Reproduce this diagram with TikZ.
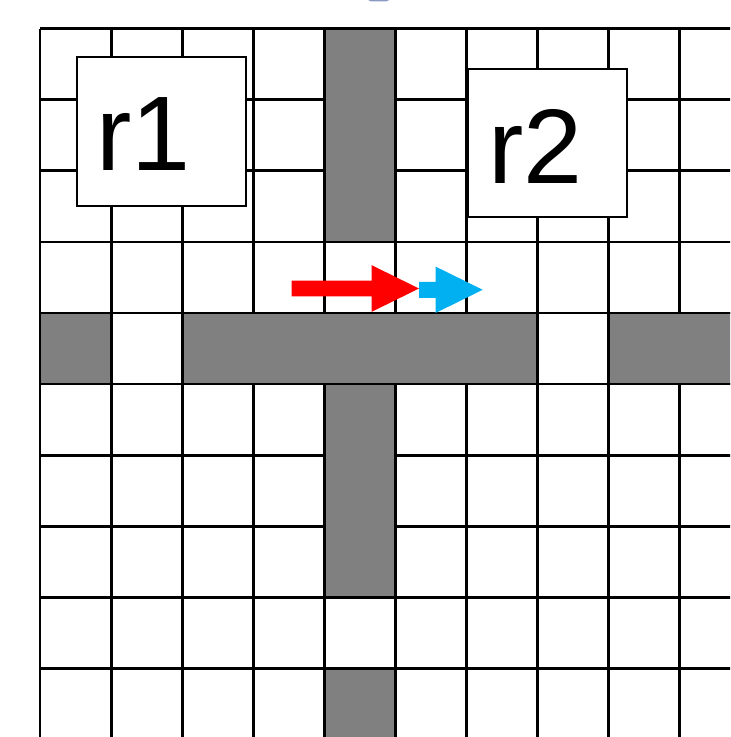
\documentclass[tikz,border=0pt]{standalone}
\usepackage{fontspec}
\setmainfont{Liberation Sans}
\usepackage{tikz}
\usetikzlibrary{positioning}
\definecolor{wall}{HTML}{808080}
\definecolor{moveA}{HTML}{FF0000}
\definecolor{moveB}{HTML}{00B0F0}
\definecolor{frag}{HTML}{8C99C4}
% block arrow: x start, x head base, x tip, y centre, half shaft, half head, colour
\newcommand{\blockarrow}[7]{%
  \fill[#7] (#1,#4+#5) -- (#2,#4+#5) -- (#2,#4+#6) -- (#3,#4) -- (#2,#4-#6)
    -- (#2,#4-#5) -- (#1,#4-#5) -- cycle;}
\tikzset{
  gridline/.style={line width=1.2pt,draw=black},
  wallcell/.style={fill=wall,draw=black,line width=1.2pt},
  regbox/.style={draw=black,line width=0.7pt,fill=white,inner sep=0pt},
  reglabel/.style={inner sep=0pt,font=\fontsize{42.5}{44}\selectfont},
}

\begin{document}
\begin{tikzpicture}[x=1cm,y=1cm]
\useasboundingbox (-0.5634,0.4085) rectangle (9.7183,-9.9718);
\clip (-0.5634,0.4085) rectangle (9.7183,-9.9718);

% grid
\foreach \i in {0,...,10} {
  \draw[gridline] (\i,0) -- (\i,-10.5);
  \draw[gridline] (0,-\i) -- (10.5,-\i);
}

% walls
\draw[wallcell] (4,0) rectangle (5,-3);
\draw[wallcell] (0,-4) rectangle (1,-5);
\draw[wallcell] (2,-4) rectangle (7,-5);
\draw[wallcell] (8,-4) rectangle (10.5,-5);
\draw[wallcell] (4,-5) rectangle (5,-8);
\draw[wallcell] (4,-9) rectangle (5,-10.5);

% regions
\node[regbox,minimum width=2.380cm,minimum height=2.099cm] (r1) at (1.711,-1.443) {};
\node[regbox,minimum width=2.239cm,minimum height=2.085cm] (r2) at (7.148,-1.606) {};
\node[reglabel] (r1txt) at ([xshift=-0.255cm,yshift=-0.03cm]r1.center) {r1};
\node[reglabel] (r2txt) at ([xshift=-0.165cm,yshift=-0.05cm]r2.center) {r2};

% moves
\blockarrow{3.545}{4.672}{5.338}{-3.655}{0.110}{0.328}{moveA}
\blockarrow{5.338}{5.573}{6.235}{-3.673}{0.113}{0.326}{moveB}

% cut-off fragment at the top
\fill[frag] (4.62,0.4085) -- (4.92,0.4085) -- (4.88,0.39) -- (4.66,0.39) -- cycle;
\end{tikzpicture}
\end{document}
